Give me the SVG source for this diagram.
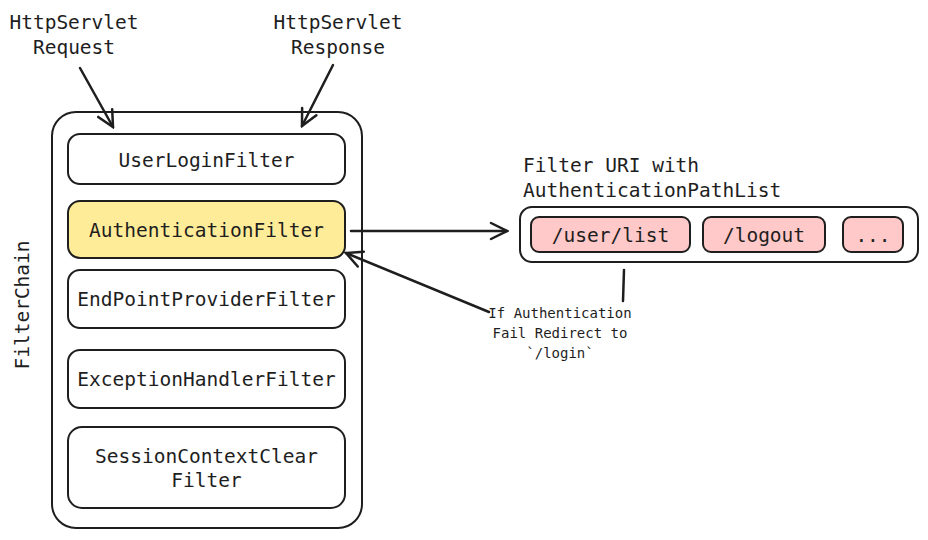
<svg xmlns="http://www.w3.org/2000/svg" width="928" height="540" viewBox="0 0 928 540">
<defs>
<style>
text{font-family:"DejaVu Sans Mono","Liberation Mono",monospace;fill:#1e1e1e;font-size:19.5px;text-anchor:middle;dominant-baseline:central}
.box{fill:#fff;stroke:#1e1e1e;stroke-width:2}
.yel{fill:#ffec99;stroke:#1e1e1e;stroke-width:2}
.pink{fill:#ffc9c9;stroke:#1e1e1e;stroke-width:2}
.ln{fill:none;stroke:#1e1e1e;stroke-width:2.5;stroke-linecap:round}
.sm{font-size:14px}
</style>
<marker id="ah" viewBox="0 0 20 20" refX="18" refY="10" markerWidth="20" markerHeight="20" markerUnits="userSpaceOnUse" orient="auto">
<path d="M2,2 L18,10 L2,18" fill="none" stroke="#1e1e1e" stroke-width="2.5" stroke-linecap="round"/>
</marker>
</defs>
<rect width="928" height="540" fill="#fff"/>
<g id="labels">
<text x="74" y="22">HttpServlet</text>
<text x="74" y="47">Request</text>
<text x="338" y="22">HttpServlet</text>
<text x="338" y="47">Response</text>
</g>
<g id="filterchain">
<rect class="box" x="52" y="112" width="310" height="416" rx="24"/>
<text x="22" y="305" transform="rotate(-90 22 305)">FilterChain</text>
</g>
<g id="userlogin">
<rect class="box" x="68" y="134" width="277" height="50" rx="12"/>
<text x="206.5" y="160">UserLoginFilter</text>
</g>
<g id="authfilter">
<rect class="yel" x="68" y="201" width="277" height="57" rx="12"/>
<text x="206.5" y="230">AuthenticationFilter</text>
</g>
<g id="endpoint">
<rect class="box" x="68" y="270" width="277" height="58" rx="12"/>
<text x="206.5" y="299">EndPointProviderFilter</text>
</g>
<g id="exception">
<rect class="box" x="68" y="350" width="277" height="58" rx="12"/>
<text x="206.5" y="379">ExceptionHandlerFilter</text>
</g>
<g id="session">
<rect class="box" x="68" y="427" width="277" height="81" rx="14"/>
<text x="206.5" y="456">SessionContextClear</text>
<text x="206.5" y="480">Filter</text>
</g>
<g id="pathlist">
<text x="523" y="165" style="text-anchor:start">Filter URI with</text>
<text x="523" y="190" style="text-anchor:start">AuthenticationPathList</text>
<rect class="box" x="520" y="207" width="398" height="55" rx="12"/>
</g>
<g id="userlist">
<rect class="pink" x="531" y="217" width="159" height="35" rx="8"/>
<text x="610.5" y="235">/user/list</text>
</g>
<g id="logout">
<rect class="pink" x="703" y="217" width="122" height="35" rx="8"/>
<text x="764" y="235">/logout</text>
</g>
<g id="more">
<rect class="pink" x="843" y="217" width="60" height="35" rx="8"/>
<text x="873" y="235">...</text>
</g>
<g id="note">
<text class="sm" x="560" y="313">If Authentication</text>
<text class="sm" x="560" y="333">Fail Redirect to</text>
<text class="sm" x="560" y="353">`/login`</text>
</g>
<g id="connectors">
<line class="ln" x1="80" y1="68" x2="113" y2="127" marker-end="url(#ah)"/>
<line class="ln" x1="333" y1="65" x2="302" y2="126" marker-end="url(#ah)"/>
<line class="ln" x1="351" y1="231" x2="507" y2="231" marker-end="url(#ah)"/>
<line class="ln" x1="489" y1="312" x2="346" y2="253" marker-end="url(#ah)"/>
<line class="ln" x1="624" y1="270" x2="623" y2="301"/>
</g>
</svg>
